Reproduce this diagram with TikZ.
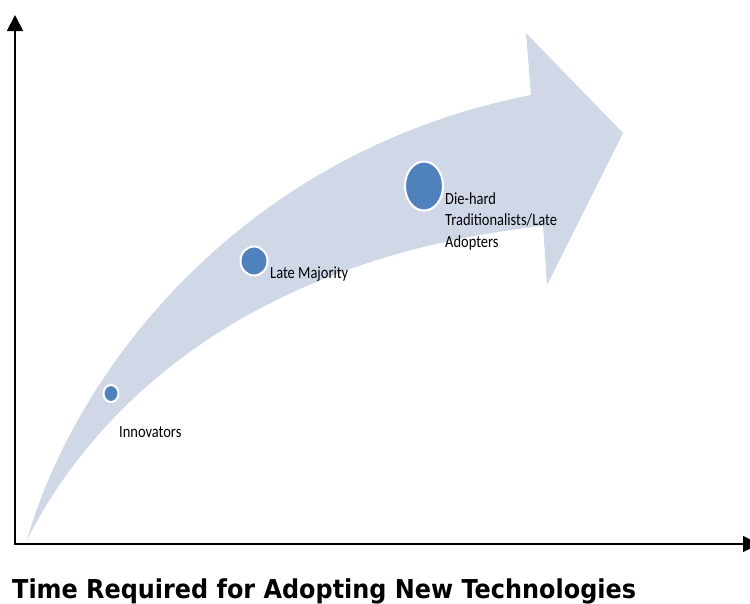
\documentclass[tikz,border=0pt]{standalone}
\usepackage{fontspec}
\usetikzlibrary{arrows.meta,shapes.geometric}
\newfontfamily\labfont[FakeStretch=0.85]{Carlito}
\newfontfamily\ttlfont[FakeStretch=0.92]{DejaVu Sans}
\definecolor{shaftcol}{HTML}{D0D8E8}
\definecolor{dotcol}{HTML}{4F81BD}
\begin{document}
\begin{tikzpicture}[x=1pt,y=-1pt,
  axis/.style={line width=1.8pt,draw=black},
  dot/.style={ellipse,fill=dotcol,draw=white,line width=2pt,inner sep=0},
  lab/.style={anchor=base west,inner sep=0,font=\labfont\fontsize{17}{21.5}\selectfont,text=black}]
\useasboundingbox (0,0) rectangle (750,603);
% curved arrow
\fill[shaftcol] (27,540) .. controls (75,372) and (240,152) .. (531,95)
  -- (526,33) -- (623,133) -- (547,285) -- (543,226)
  .. controls (250,258) and (95,405) .. (27,540) -- cycle;
% axes
\coordinate (ytop) at (15,15);
\coordinate (orig) at (15,544);
\coordinate (xend) at (759,544);
\draw[axis,{Triangle[length=16pt,width=16pt]}-{Triangle[length=16pt,width=16pt]}] (ytop) -- (orig) -- (xend);
% dots
\node[dot,minimum width=15pt,minimum height=17pt] (innov) at (111,393.5) {};
\node[dot,minimum width=27pt,minimum height=29pt] (late) at (254,261) {};
\node[dot,minimum width=38pt,minimum height=49pt] (diehard) at (424,186) {};
% labels
\node[lab] (linnov) at (119,437) {Innovators};
\node[lab] (llate) at (270,278) {Late Majority};
\node[lab] (ldh1) at (445,204) {Die-hard};
\node[lab] (ldh2) at (445,225.5) {Traditionalists/Late};
\node[lab] (ldh3) at (445,247) {Adopters};
% title
\node[anchor=base west,inner sep=0,font=\ttlfont\bfseries\fontsize{26}{30}\selectfont] (title) at (12,598) {Time Required for Adopting New Technologies};
\end{tikzpicture}
\end{document}
